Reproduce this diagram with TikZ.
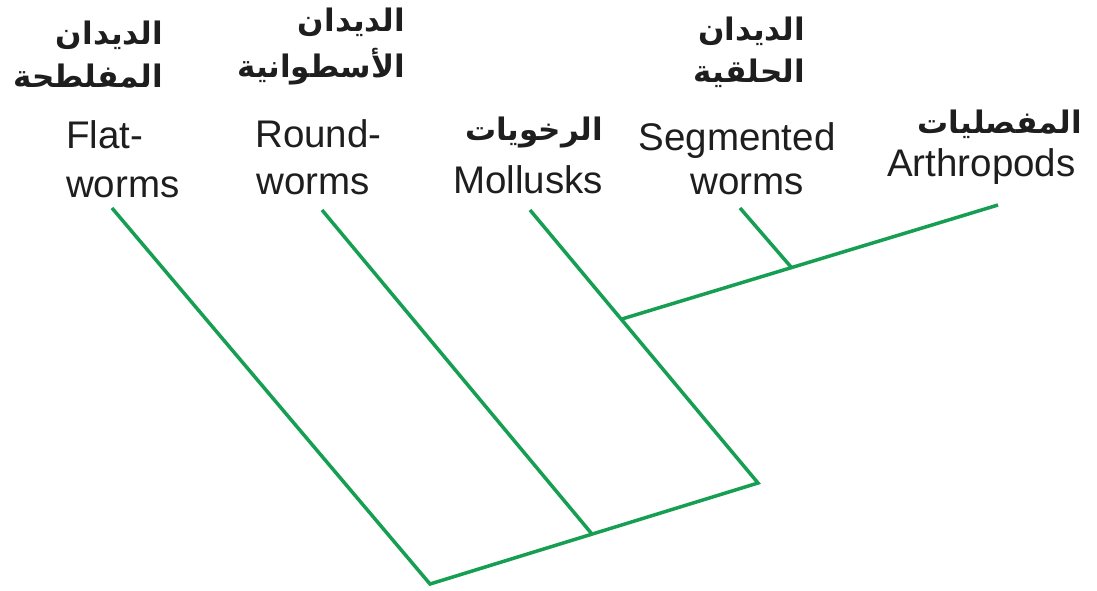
\documentclass[tikz,border=0pt]{standalone}
\usepackage{fontspec}
\setmainfont{Liberation Sans}
\newfontfamily\arabicfont[Script=Arabic]{DejaVu Sans}
\TeXXeTstate=1
\usetikzlibrary{calc}
\definecolor{treegreen}{RGB}{22,158,82}
\definecolor{txt}{RGB}{30,30,30}
\begin{document}
\begin{tikzpicture}[x=1pt,y=-1pt,
  branch/.style={draw=treegreen, line width=3.5pt, line join=miter},
  en/.style={inner sep=0pt, anchor=base west, text=txt, font=\fontsize{38.5}{38.5}\selectfont},
  enc/.style={inner sep=0pt, anchor=base, text=txt, font=\fontsize{38.5}{38.5}\selectfont},
  ar/.style={inner sep=0pt, anchor=base east, text=txt, font=\arabicfont\bfseries\fontsize{31}{31}\selectfont}]
\path[use as bounding box] (0,0) rectangle (1097,590);

% labels
\node[ar] (flatar1) at (163,44) {\beginR الديدان\endR};
\node[ar] (flatar2) at (163,87) {\beginR المفلطحة\endR};
\node[en] (flat1) at (66,148) {Flat-};
\node[en] (flat2) at (66,197) {worms};

\node[ar] (roundar1) at (405,31) {\beginR الديدان\endR};
\node[ar] (roundar2) at (405,77) {\beginR الأسطوانية\endR};
\node[en] (round1) at (255,147) {Round-};
\node[en] (round2) at (256,194) {worms};

\node[ar] (mollar) at (603,140) {\beginR الرخويات\endR};
\node[en] (moll) at (453,193) {Mollusks};

\node[ar] (segar1) at (805,40) {\beginR الديدان\endR};
\node[ar] (segar2) at (805,82) {\beginR الحلقية\endR};
\node[enc] (seg1) at (737,150) {Segmented};
\node[enc] (seg2) at (747,194) {worms};

\node[ar] (arthar) at (1082,133) {\beginR المفصليات\endR};
\node[en] (arth) at (887,176) {Arthropods};

% tree
\coordinate (root) at (430,584);
\coordinate (corner) at (758,483);
\coordinate (tflat) at (112,208);
\coordinate (tround) at (322,210);
\coordinate (tmoll) at (530,210);
\coordinate (tseg) at (740,208);
\coordinate (tarth) at (998,205);
\coordinate (j1) at ($(root)!0.494!(corner)$);
\coordinate (j2) at ($(corner)!0.6!(tmoll)$);
\coordinate (j3) at ($(j2)!0.452!(tarth)$);

\draw[branch] (tflat) -- (root) -- (corner) -- (tmoll);
\draw[branch] (j1) -- (tround);
\draw[branch] (j2) -- (tarth);
\draw[branch] (j3) -- (tseg);
\end{tikzpicture}
\end{document}
